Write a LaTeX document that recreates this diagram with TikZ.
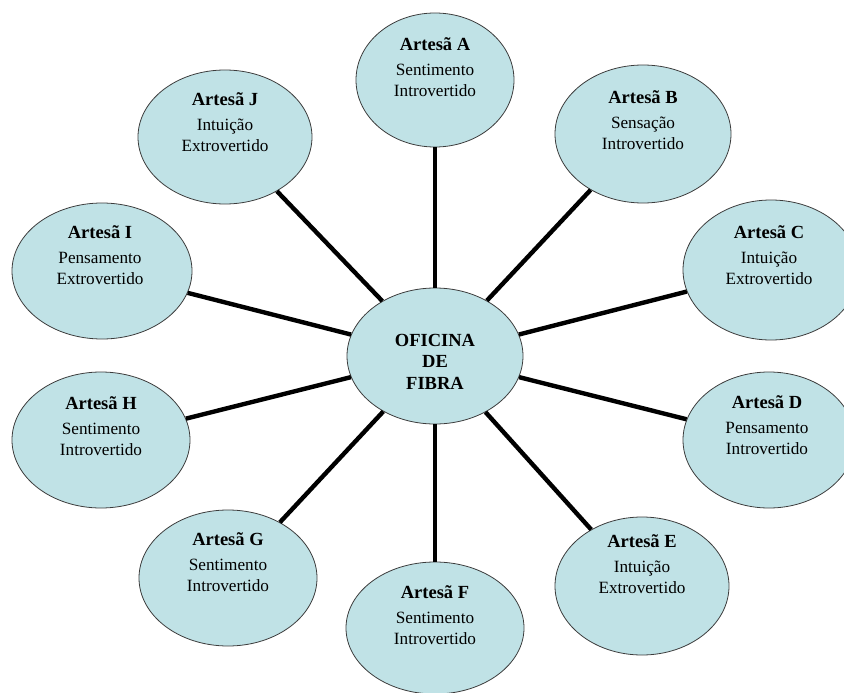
\documentclass[tikz,border=0pt]{standalone}
\usepackage{fontspec}
\setmainfont{Liberation Serif}
\usetikzlibrary{shapes.geometric}
\definecolor{bubble}{RGB}{192,226,230}
\definecolor{rim}{RGB}{60,60,60}
\newcommand\artesa[3]{{\bfseries\fontsize{18.5}{20.5}\selectfont Artesã #1}\\[4.5pt]#2\\#3}
\begin{document}
\begin{tikzpicture}[x=1pt,y=-1pt,
  bub/.style={ellipse, draw=rim, line width=0.8pt, fill=bubble, inner sep=0pt},
  lbl/.style={align=center, inner sep=0pt, font=\fontsize{17.2}{20.5}\selectfont},
  spoke/.style={line width=4.4pt}]
\useasboundingbox (0,0) rectangle (844,693);
\clip (0,0) rectangle (844,693);
% bubbles
\node[bub, minimum width=176pt, minimum height=136pt] (O) at (435,356) {};
\node[bub, minimum width=158pt, minimum height=134pt] (A) at (435,80) {};
\node[bub, minimum width=176pt, minimum height=138pt] (B) at (643,134) {};
\node[bub, minimum width=176pt, minimum height=140pt] (C) at (771,270) {};
\node[bub, minimum width=172pt, minimum height=136pt] (D) at (769,440) {};
\node[bub, minimum width=174pt, minimum height=138pt] (E) at (642,586) {};
\node[bub, minimum width=178pt, minimum height=132pt] (F) at (435,628) {};
\node[bub, minimum width=178pt, minimum height=136pt] (G) at (228,578) {};
\node[bub, minimum width=178pt, minimum height=136pt] (H) at (101,440) {};
\node[bub, minimum width=180pt, minimum height=136pt] (I) at (102,271) {};
\node[bub, minimum width=174pt, minimum height=134pt] (J) at (225,137) {};
% spokes
\foreach \n in {A,B,C,D,E,F,G,H,I,J} \draw[spoke] (O) -- (\n);
% labels
\node[lbl, font=\bfseries\fontsize{18.5}{21.5}\selectfont] (Ot) at (435,361.5) {OFICINA\\DE\\FIBRA};
\node[lbl] (At) at (435,67) {\artesa{A}{Sentimento}{Introvertido}};
\node[lbl] (Bt) at (643,120) {\artesa{B}{Sensação}{Introvertido}};
\node[lbl] (Ct) at (769,255) {\artesa{C}{Intuição}{Extrovertido}};
\node[lbl] (Dt) at (767,425) {\artesa{D}{Pensamento}{Introvertido}};
\node[lbl] (Et) at (642,564) {\artesa{E}{Intuição}{Extrovertido}};
\node[lbl] (Ft) at (435,615) {\artesa{F}{Sentimento}{Introvertido}};
\node[lbl] (Gt) at (228,562) {\artesa{G}{Sentimento}{Introvertido}};
\node[lbl] (Ht) at (101,426) {\artesa{H}{Sentimento}{Introvertido}};
\node[lbl] (It) at (100,255) {\artesa{I}{Pensamento}{Extrovertido}};
\node[lbl] (Jt) at (225,122) {\artesa{J}{Intuição}{Extrovertido}};
\end{tikzpicture}
\end{document}
